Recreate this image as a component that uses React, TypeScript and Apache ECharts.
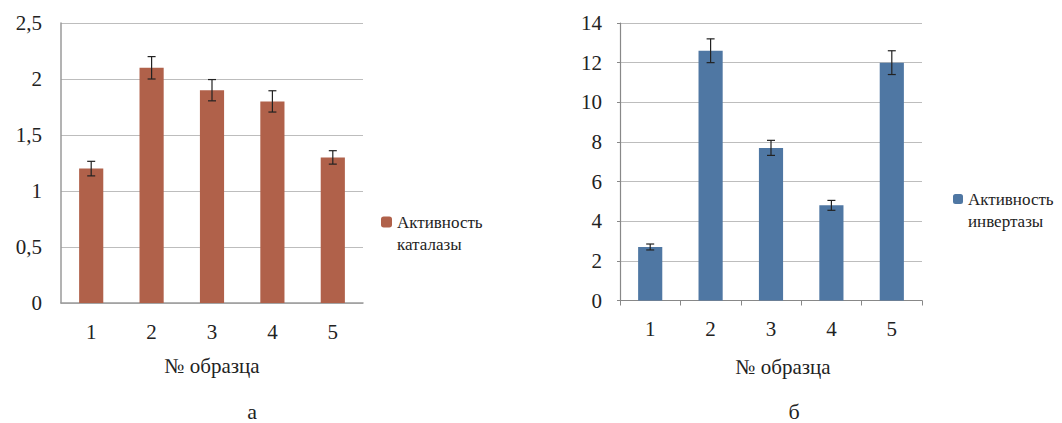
import React, { useEffect, useRef } from "react";
import * as echarts from "echarts";

const categories = ["1", "2", "3", "4", "5"];
const catalaseValues = [1.2, 2.1, 1.9, 1.8, 1.3];
const catalaseErrors = [0.065, 0.1, 0.095, 0.095, 0.06];
const invertaseValues = [2.7, 12.6, 7.7, 4.8, 12.0];
const invertaseErrors = [0.15, 0.6, 0.38, 0.25, 0.6];
const leftTicks = { min: 0, max: 2.5, interval: 0.5 };
const rightTicks = { min: 0, max: 14, interval: 2 };
const catalaseName = "Активность\nкаталазы";
const invertaseName = "Активность\nинвертазы";
const xAxisTitle = "№ образца";
const panelLabels = ["а", "б"];

const FONT = "'Liberation Serif', 'Times New Roman', serif";
const BROWN = "#B0614A";
const BLUE = "#4F77A3";

function errorItem(values: number[], errs: number[]) {
  return values.map((v, i) => [i, v - errs[i], v + errs[i]]);
}

function renderError(params: any, api: any) {
  const i = api.value(0);
  const lo = api.coord([i, api.value(1)]);
  const hi = api.coord([i, api.value(2)]);
  const cap = 4;
  const style = { stroke: "#222", lineWidth: 1.2 };
  return {
    type: "group",
    children: [
      { type: "line", shape: { x1: hi[0], y1: hi[1], x2: lo[0], y2: lo[1] }, style },
      { type: "line", shape: { x1: hi[0] - cap, y1: hi[1], x2: hi[0] + cap, y2: hi[1] }, style },
      { type: "line", shape: { x1: lo[0] - cap, y1: lo[1], x2: lo[0] + cap, y2: lo[1] }, style },
    ],
  };
}

export default function App() {
  const ref = useRef<HTMLDivElement>(null);
  useEffect(() => {
    document.body.style.margin = "0";
    const chart = echarts.init(ref.current!, null, { renderer: "svg" });
    const axisLabel = { fontFamily: FONT, fontSize: 21, color: "#222" };
    const legendText = { fontFamily: FONT, fontSize: 17, color: "#222", lineHeight: 22 };
    const legendFormatter = (name: string) => "\n" + name;
    chart.setOption({
      animation: false,
      backgroundColor: "#fff",
      grid: [
        { left: 61, top: 23, width: 302, height: 280 },
        { left: 620, top: 23, width: 302, height: 277.5 },
      ],
      xAxis: [
        {
          type: "category",
          gridIndex: 0,
          data: categories,
          axisLine: { lineStyle: { color: "#9a9a9a", width: 1.5 } },
          axisTick: { show: false },
          axisLabel: { ...axisLabel, margin: 18 },
        },
        {
          type: "category",
          gridIndex: 1,
          data: categories,
          axisLine: { lineStyle: { color: "#888", width: 1.2 } },
          axisTick: { show: true, length: 5, lineStyle: { color: "#888" } },
          axisLabel: { ...axisLabel, margin: 18 },
        },
      ],
      yAxis: [
        {
          type: "value",
          gridIndex: 0,
          ...leftTicks,
          axisLine: { show: true, lineStyle: { color: "#9a9a9a", width: 1.5 } },
          axisTick: { show: false },
          splitLine: { lineStyle: { color: "#bdbdbd", width: 1.2 } },
          axisLabel: {
            ...axisLabel,
            margin: 19,
            formatter: (v: number) => String(v).replace(".", ","),
          },
        },
        {
          type: "value",
          gridIndex: 1,
          ...rightTicks,
          axisLine: { show: true, lineStyle: { color: "#888", width: 1.2 } },
          axisTick: { show: true, length: 3, lineStyle: { color: "#888" } },
          splitLine: { lineStyle: { color: "#bdbdbd", width: 1.2 } },
          axisLabel: { ...axisLabel, margin: 18 },
        },
      ],
      legend: [
        {
          data: [catalaseName],
          formatter: legendFormatter,
          left: 376,
          top: 184,
          orient: "vertical",
          itemWidth: 11,
          itemHeight: 11,
          itemGap: 4,
          textStyle: legendText,
        },
        {
          data: [invertaseName],
          formatter: legendFormatter,
          left: 948,
          top: 161,
          orient: "vertical",
          itemWidth: 10,
          itemHeight: 10,
          itemGap: 4,
          textStyle: legendText,
        },
      ],
      series: [
        {
          name: catalaseName,
          type: "bar",
          xAxisIndex: 0,
          yAxisIndex: 0,
          data: catalaseValues,
          barWidth: "40%",
          itemStyle: { color: BROWN },
        },
        {
          type: "custom",
          xAxisIndex: 0,
          yAxisIndex: 0,
          data: errorItem(catalaseValues, catalaseErrors),
          renderItem: renderError,
          z: 10,
        },
        {
          name: invertaseName,
          type: "bar",
          xAxisIndex: 1,
          yAxisIndex: 1,
          data: invertaseValues,
          barWidth: "40%",
          itemStyle: { color: BLUE },
        },
        {
          type: "custom",
          xAxisIndex: 1,
          yAxisIndex: 1,
          data: errorItem(invertaseValues, invertaseErrors),
          renderItem: renderError,
          z: 10,
        },
      ],
      graphic: [
        {
          type: "text",
          x: 212,
          y: 366,
          style: { text: xAxisTitle, fontFamily: FONT, fontSize: 21, fill: "#222", align: "center", verticalAlign: "middle" },
        },
        {
          type: "text",
          x: 783,
          y: 367,
          style: { text: xAxisTitle, fontFamily: FONT, fontSize: 21, fill: "#222", align: "center", verticalAlign: "middle" },
        },
        {
          type: "text",
          x: 252,
          y: 411,
          style: { text: panelLabels[0], fontFamily: FONT, fontSize: 22, fill: "#222", align: "center", verticalAlign: "middle" },
        },
        {
          type: "text",
          x: 794,
          y: 411,
          style: { text: panelLabels[1], fontFamily: FONT, fontSize: 22, fill: "#222", align: "center", verticalAlign: "middle" },
        },
      ],
    });
    return () => chart.dispose();
  }, []);
  return <div ref={ref} style={{ position: "fixed", left: 0, top: 0, width: 1062, height: 423 }} />;
}
